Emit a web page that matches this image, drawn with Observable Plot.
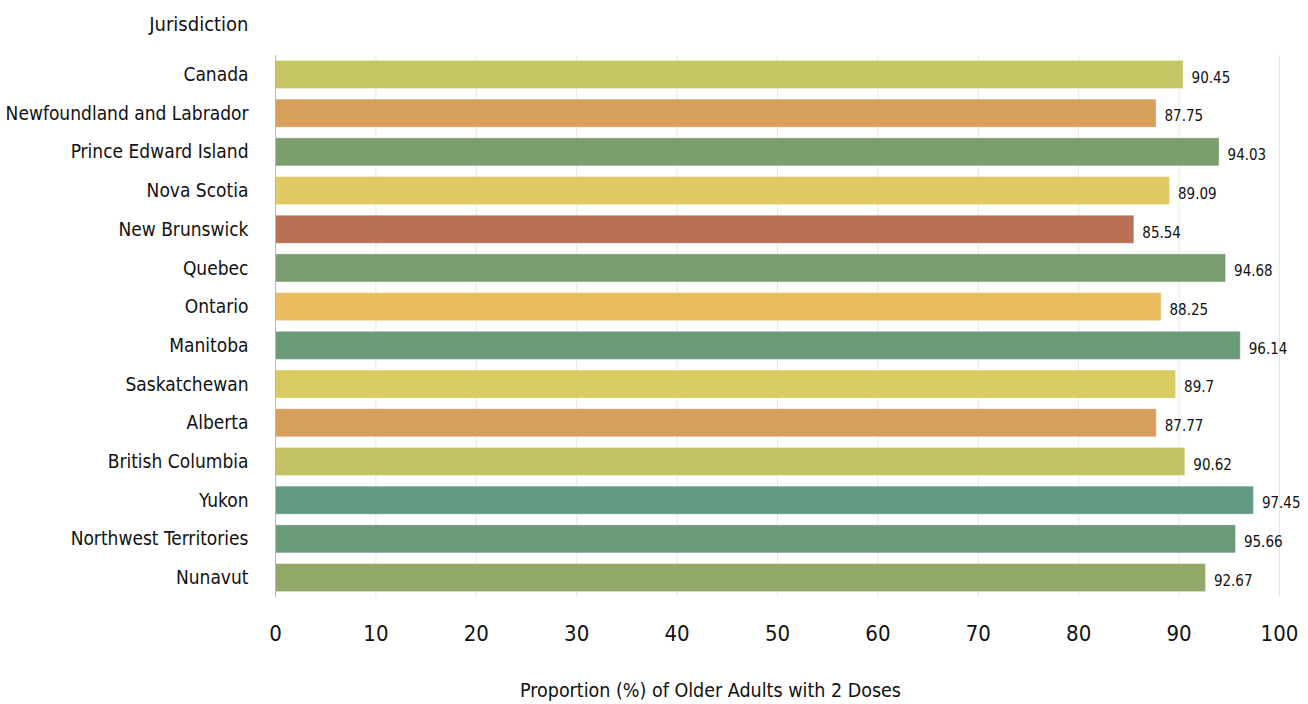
<!DOCTYPE html>
<html><head><meta charset="utf-8">
<script src="https://cdn.jsdelivr.net/npm/d3@7"></script>
<script src="https://cdn.jsdelivr.net/npm/@observablehq/plot@0.6"></script>
<style>
body{margin:0;background:#fff;}
svg{font-family:"DejaVu Sans Condensed","Liberation Sans Narrow",sans-serif;}
</style></head>
<body><div id="chart"></div>
<script>
const jurisdictions = ["Canada","Newfoundland and Labrador","Prince Edward Island","Nova Scotia","New Brunswick","Quebec","Ontario","Manitoba","Saskatchewan","Alberta","British Columbia","Yukon","Northwest Territories","Nunavut"];
const proportions = [90.45,87.75,94.03,89.09,85.54,94.68,88.25,96.14,89.7,87.77,90.62,97.45,95.66,92.67];
const barColors = ["#c5c563","#d89e5c","#7b9e6e","#e0c962","#b87056","#799d6e","#ebbb60","#6a9a78","#d7cb61","#d89e5c","#c3c363","#639a84","#6b9a78","#91a866"];
const xTicks = [0,10,20,30,40,50,60,70,80,90,100];

const data = jurisdictions.map((j,i)=>({j, v: proportions[i], c: barColors[i]}));

const chart = Plot.plot({
  width: 1308, height: 704,
  marginLeft: 275, marginRight: 29, marginTop: 55, marginBottom: 107,
  style: {fontFamily: '"DejaVu Sans Condensed","Liberation Sans Narrow",sans-serif', color:"#111"},
  x: {domain:[0,100], ticks: xTicks},
  y: {domain: jurisdictions, paddingInner: 0.276, paddingOuter: 0.14, round: false},
  marks: [
    Plot.gridX(xTicks, {stroke:"#e8e8e8", strokeOpacity:1}),
    Plot.barX(data, {y:"j", x:"v", fill: d=>d.c, stroke:"#ffffff", strokeOpacity:0.35}),
    Plot.text(data, {y:"j", x:"v", text: d=>String(d.v), textAnchor:"start", dx:8, dy:3, fontSize:15, fill:"#111"}),
    Plot.ruleX([0], {stroke:"#bbbbbb"}),
    Plot.ruleY([0], {stroke:"#cccccc", frameAnchor:"bottom"}),
    Plot.axisY({tickSize:0, tickPadding:27, fontSize:19, label:null}),
    Plot.axisX({ticks:xTicks, tickSize:0, tickPadding:28, fontSize:22, label:null}),
    Plot.text(["Jurisdiction"], {frameAnchor:"top-left", lineAnchor:"middle", dx:-27, dy:-31, textAnchor:"end", fontSize:20}),
    Plot.text(["Proportion (%) of Older Adults with 2 Doses"], {frameAnchor:"bottom", lineAnchor:"middle", dx:-67, dy:93, fontSize:19.5})
  ]
});
document.getElementById("chart").appendChild(chart);
</script></body></html>
